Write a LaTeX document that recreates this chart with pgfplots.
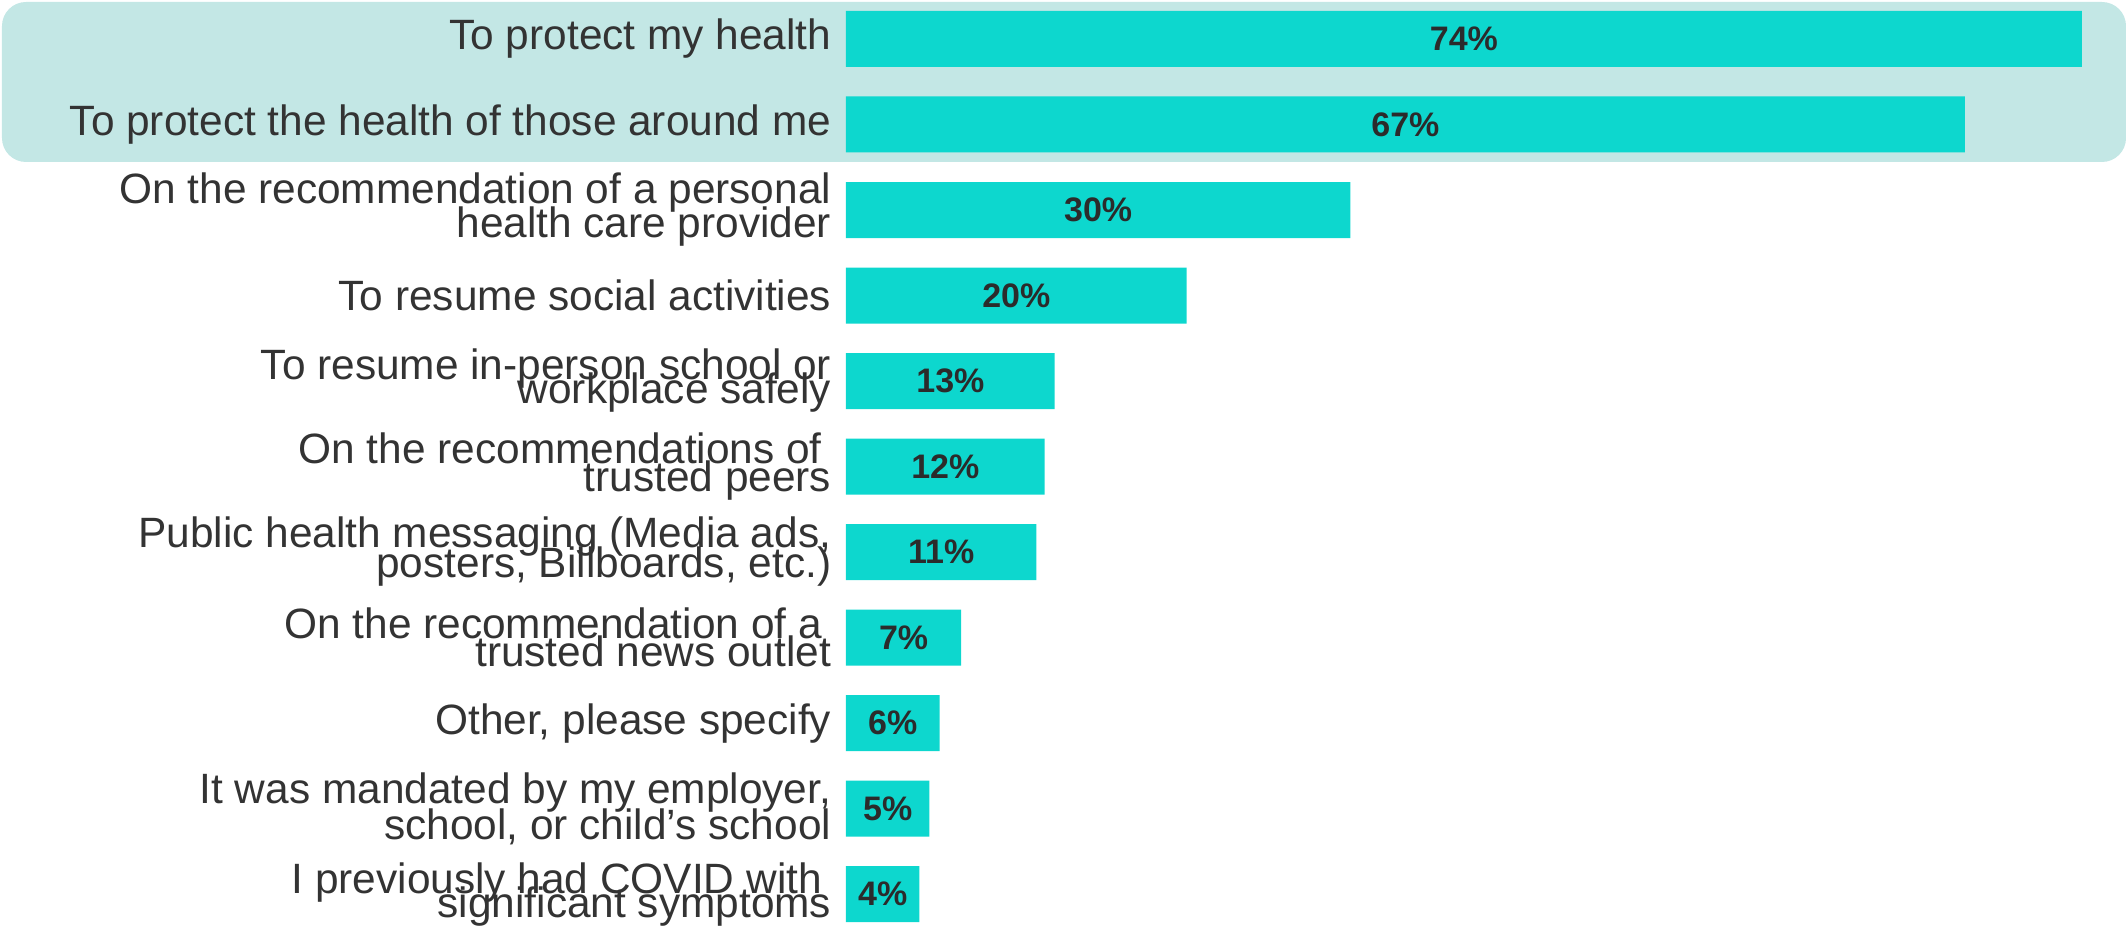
\documentclass[border=0pt]{standalone}
\usepackage{fontspec}
\setmainfont{Liberation Sans}
\usepackage{pgfplots}
\pgfplotsset{compat=1.18}
\usepackage{pgfplotstable}
\lineskiplimit=-\maxdimen
\definecolor{barc}{HTML}{0DD7CE}
\definecolor{hl}{HTML}{C3E7E5}
\definecolor{txt}{HTML}{333333}
\definecolor{num}{HTML}{2B2B2B}

\pgfplotstableread{
y v lab
0 74 74
1 67 67
2 30.2 30
3 20.4 20
4 12.5 13
5 11.9 12
6 11.4 11
7 6.9 7
8 5.6 6
9 5.0 5
10 4.4 4
}\data

\begin{document}
\begin{tikzpicture}
\path[use as bounding box] (-211.5pt,0pt) rectangle (320pt,233pt);
\fill[hl, rounded corners=6pt] (-211pt,192.5pt) rectangle (320pt,232.5pt);
\begin{axis}[
  at={(0,0)}, anchor=south west,
  scale only axis, width=317.3pt, height=233pt,
  xmin=0, xmax=76, ymin=-0.456, ymax=10.444, y dir=reverse,
  axis line style={draw=none}, tick style={draw=none},
  xtick=\empty,
  ytick={0,...,10},
  yticklabels={
    {To protect my health},
    {To protect the health of those around me},
    {On the recommendation of a personal\\health care provider},
    {To resume social activities},
    {To resume in-person school or\\[-2.5pt]workplace safely},
    {On the recommendations of\hspace*{0.22em}\\[-1.5pt]trusted peers},
    {Public health messaging (Media ads,\\[-1pt]posters, Billboards, etc.)},
    {On the recommendation of a\hspace*{0.22em}\\[-1.5pt]trusted news outlet},
    {Other, please specify},
    {It was mandated by my employer,\\[0.5pt]school, or child’s school},
    {I previously had COVID with\hspace*{0.22em}\\[-2.5pt]significant symptoms}
  },
  yticklabel style={anchor=east, inner sep=0pt, xshift=-3.5pt, align=right,
    text=txt, font=\fontsize{10.6}{8.5}\selectfont},
  clip=false,
]
\addplot[xbar, bar width=14pt, fill=barc, draw=none] table[x=v, y=y] {\data};
\addplot[draw=none, mark=none, nodes near coords={\pgfplotspointmeta\%},
  point meta=explicit symbolic,
  nodes near coords style={anchor=center, text=num, inner sep=0pt,
    font=\bfseries\fontsize{8.5}{10}\selectfont}]
  table[x expr=\thisrow{v}/2, y=y, meta=lab] {\data};
\end{axis}
\end{tikzpicture}
\end{document}
